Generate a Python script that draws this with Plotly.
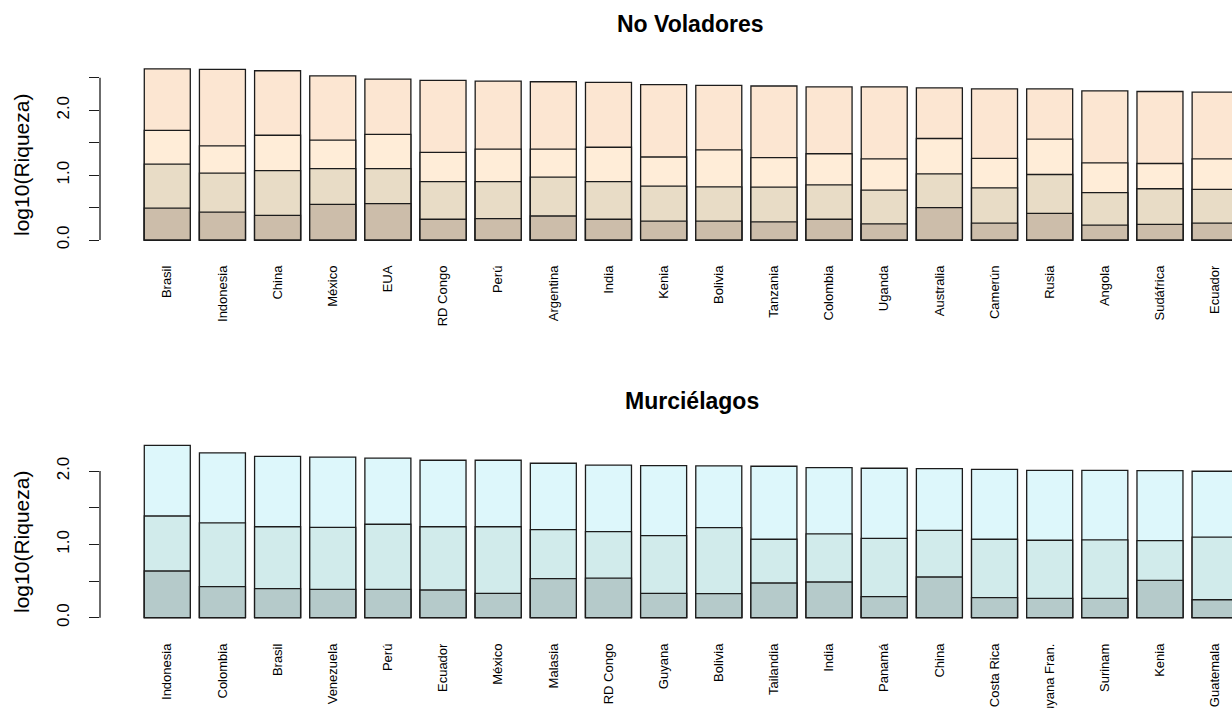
import plotly.graph_objects as go
from plotly.subplots import make_subplots

# ---------------- data ----------------
nv_countries = ["Brasil", "Indonesia", "China", "México", "EUA", "RD Congo", "Perú",
                "Argentina", "India", "Kenia", "Bolivia", "Tanzania", "Colombia",
                "Uganda", "Australia", "Camerún", "Rusia", "Angola", "Sudáfrica", "Ecuador"]
nv_total = [2.64, 2.63, 2.61, 2.53, 2.48, 2.46, 2.45, 2.44, 2.43, 2.395,
            2.385, 2.375, 2.36, 2.36, 2.345, 2.33, 2.33, 2.30, 2.29, 2.28]
nv_lvl3 = [1.69, 1.45, 1.615, 1.54, 1.63, 1.35, 1.40, 1.40, 1.43, 1.28,
           1.39, 1.27, 1.33, 1.25, 1.565, 1.26, 1.555, 1.19, 1.18, 1.25]
nv_lvl2 = [1.17, 1.03, 1.07, 1.10, 1.10, 0.90, 0.90, 0.97, 0.90, 0.83,
           0.82, 0.815, 0.85, 0.77, 1.02, 0.805, 1.01, 0.73, 0.79, 0.78]
nv_lvl1 = [0.49, 0.43, 0.38, 0.55, 0.56, 0.32, 0.33, 0.37, 0.32, 0.29,
           0.29, 0.28, 0.32, 0.25, 0.50, 0.26, 0.41, 0.23, 0.24, 0.26]

m_countries = ["Indonesia", "Colombia", "Brasil", "Venezuela", "Perú", "Ecuador",
               "México", "Malasia", "RD Congo", "Guyana", "Bolivia", "Tailandia",
               "India", "Panamá", "China", "Costa Rica", "Guyana Fran.", "Surinam",
               "Kenia", "Guatemala"]
m_total = [2.35, 2.247, 2.20, 2.19, 2.175, 2.147, 2.147, 2.106, 2.08, 2.074,
           2.07, 2.065, 2.046, 2.038, 2.033, 2.024, 2.01, 2.01, 2.005, 1.997]
m_lvl2 = [1.387, 1.292, 1.24, 1.233, 1.274, 1.24, 1.24, 1.20, 1.173, 1.119,
          1.228, 1.07, 1.142, 1.083, 1.192, 1.07, 1.056, 1.06, 1.05, 1.10]
m_lvl1 = [0.637, 0.423, 0.396, 0.387, 0.387, 0.378, 0.333, 0.532, 0.541, 0.333,
          0.328, 0.473, 0.487, 0.287, 0.555, 0.273, 0.264, 0.264, 0.51, 0.245]

nv_colors = ["#FCE6D2", "#FFEDD8", "#E8DCC6", "#CCBDAA"]
m_colors = ["#DDF7FB", "#D1EBEB", "#B5CACA"]

y_ticks_nv = [0, 0.5, 1.0, 1.5, 2.0, 2.5]
y_text_nv = ["0.0", "", "1.0", "", "2.0", ""]
y_ticks_m = [0, 0.5, 1.0, 1.5, 2.0]
y_text_m = ["0.0", "", "1.0", "", "2.0"]

W, H = 1232, 708
FONT = "Liberation Sans, Arial, Helvetica, sans-serif"
EDGE = dict(color="#1c1c1c", width=1.3)

fig = make_subplots(rows=2, cols=1)

for vals, col in zip([nv_total, nv_lvl3, nv_lvl2, nv_lvl1], nv_colors):
    fig.add_trace(go.Bar(x=nv_countries, y=vals, marker=dict(color=col, line=EDGE),
                         showlegend=False, hoverinfo="skip"), row=1, col=1)
for vals, col in zip([m_total, m_lvl2, m_lvl1], m_colors):
    fig.add_trace(go.Bar(x=m_countries, y=vals, marker=dict(color=col, line=EDGE),
                         showlegend=False, hoverinfo="skip"), row=2, col=1)

xdom = [100 / W, 1.0]
top_dom = [1 - 250 / H, 1 - 40 / H]
bot_dom = [1 - 628 / H, 1 - 420 / H]

xcommon = dict(domain=xdom, range=[-1.22, 19.306], showgrid=False, zeroline=False,
               showline=False, ticks="", tickangle=-90,
               tickfont=dict(family=FONT, size=13, color="#000"),
               ticklabelstandoff=12, automargin=False)
ycommon = dict(showgrid=False, zeroline=False, showline=False, ticks="outside",
               ticklen=10, tickwidth=1.3, tickcolor="#1c1c1c", tickangle=-90,
               tickfont=dict(family=FONT, size=17, color="#000"),
               ticklabelstandoff=13, automargin=False)

fig.update_xaxes(**xcommon, row=1, col=1)
fig.update_xaxes(**xcommon, row=2, col=1)
fig.update_yaxes(**ycommon, domain=top_dom, range=[-0.1542, 3.084],
                 tickvals=y_ticks_nv, ticktext=y_text_nv, row=1, col=1)
fig.update_yaxes(**ycommon, domain=bot_dom, range=[-0.1405, 2.696],
                 tickvals=y_ticks_m, ticktext=y_text_m, row=2, col=1)

# y axis lines spanning only the tick range (R style)
fig.add_shape(type="line", xref="x domain", yref="y", x0=0, x1=0,
              y0=y_ticks_nv[0], y1=y_ticks_nv[-1], line=EDGE)
fig.add_shape(type="line", xref="x2 domain", yref="y2", x0=0, x1=0,
              y0=y_ticks_m[0], y1=y_ticks_m[-1], line=EDGE)

# titles
fig.add_annotation(text="<b>No Voladores</b>", xref="paper", yref="paper",
                   x=690 / W, y=1 - 24 / H, xanchor="center", yanchor="middle",
                   showarrow=False, font=dict(family=FONT, size=23, color="#000"))
fig.add_annotation(text="<b>Murciélagos</b>", xref="paper", yref="paper",
                   x=692 / W, y=1 - 401 / H, xanchor="center", yanchor="middle",
                   showarrow=False, font=dict(family=FONT, size=23, color="#000"))
for yc in [165, 542]:
    fig.add_annotation(text="log10(Riqueza)", xref="paper", yref="paper",
                       x=21 / W, y=1 - yc / H, xanchor="center", yanchor="middle",
                       textangle=-90, showarrow=False,
                       font=dict(family=FONT, size=21, color="#000"))

fig.update_layout(width=W, height=H, barmode="overlay", bargap=0.166,
                  margin=dict(l=0, r=0, t=0, b=0), plot_bgcolor="white",
                  paper_bgcolor="white")

fig.write_html("out.html", config={"displayModeBar": False},
               post_script="document.body.style.margin='0';"
                           "document.body.style.overflow='hidden';")
